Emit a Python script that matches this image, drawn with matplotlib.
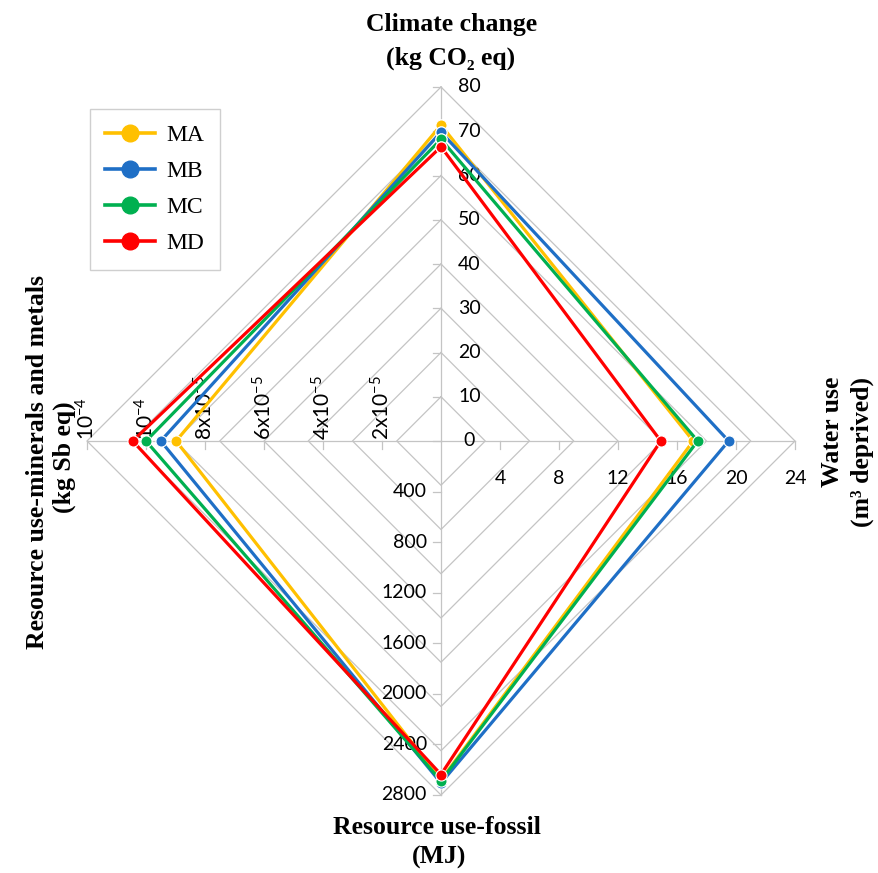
import matplotlib
matplotlib.use("Agg")
import matplotlib.pyplot as plt
from matplotlib.lines import Line2D
import numpy as np

# ---------------- data ----------------
series_names = ["MA", "MB", "MC", "MD"]
series_colors = ["#FFC000", "#1F6FC6", "#00B050", "#FF0000"]
climate_change = [71.4, 69.8, 68.2, 66.5]          # kg CO2 eq (top axis)
water_use = [17.1, 19.5, 17.4, 14.9]               # m3 deprived (right axis)
fossil = [2680, 2705, 2688, 2638]                  # MJ (bottom axis)
minerals = [0.898e-4, 0.950e-4, 1.000e-4, 1.045e-4]  # kg Sb eq (left axis)

top_ticks = [0, 10, 20, 30, 40, 50, 60, 70, 80]
right_ticks = [4, 8, 12, 16, 20, 24]
bottom_ticks = [400, 800, 1200, 1600, 2000, 2400, 2800]
left_ticks = [2e-5, 4e-5, 6e-5, 8e-5, 1e-4, 1.2e-4]
left_tick_labels = [r"$\mathregular{2x10^{-5}}$", r"$\mathregular{4x10^{-5}}$",
                    r"$\mathregular{6x10^{-5}}$", r"$\mathregular{8x10^{-5}}$",
                    r"$\mathregular{10^{-4}}$", r"$\mathregular{10^{-4}}$"]

axis_max = [80, 24, 2800, 1.2e-4]
directions = [(0, 1), (1, 0), (0, -1), (-1, 0)]
n_rings = 8

# ---------------- figure ----------------
W, H, DPI = 879, 873, 100
fig = plt.figure(figsize=(W / DPI, H / DPI), dpi=DPI)
ax = fig.add_axes([0, 0, 1, 1])
CX, CY, R = 441, 441, 354
ax.set_xlim(-CX / R, (W - CX) / R)
ax.set_ylim((CY - H) / R, CY / R)
ax.axis("off")
px = 1.0 / R

grid_c = "#C4C4C4"
tick_font = "Lato"
tick_size = 14
title_font = ["Liberation Serif", "DejaVu Serif"]


def pos(k, v):
    r = v / axis_max[k]
    return directions[k][0] * r, directions[k][1] * r


# grid diamonds
for i in range(1, n_rings + 1):
    r = i / n_rings
    xs = [0, r, 0, -r, 0]
    ys = [r, 0, -r, 0, r]
    ax.plot(xs, ys, color=grid_c, lw=0.9, zorder=1)
# axis lines
for dx, dy in directions:
    ax.plot([0, dx], [0, dy], color=grid_c, lw=0.9, zorder=1)

tl = 8 * px
# top ticks (to the left) + labels
for v in top_ticks:
    x, y = pos(0, v)
    ax.plot([x - tl, x], [y, y], color=grid_c, lw=0.9, zorder=1)
    off = 22 if v == 0 else 17
    ax.text(x + off * px, y, str(v), ha="left", va="center", fontsize=tick_size,
            family=tick_font, color="black")
# right ticks (below)
for v in right_ticks:
    x, y = pos(1, v)
    ax.plot([x, x], [y, y - tl], color=grid_c, lw=0.9, zorder=1)
    ax.text(x, y - 38 * px, str(v), ha="center", va="center", fontsize=tick_size,
            family=tick_font, color="black")
# bottom ticks (to the left)
for v in bottom_ticks:
    x, y = pos(2, v)
    ax.plot([x - tl, x], [y, y], color=grid_c, lw=0.9, zorder=1)
    ax.text(x - 14 * px, y, str(v), ha="right", va="center", fontsize=tick_size,
            family=tick_font, color="black")
# left ticks (below) + rotated labels
for v, lab in zip(left_ticks, left_tick_labels):
    x, y = pos(3, v)
    ax.plot([x, x], [y, y - tl], color=grid_c, lw=0.9, zorder=1)
    ax.text(x, y + 1 * px, lab, ha="center", va="bottom", rotation=90,
            fontsize=15, family=tick_font, color="black")

# series
for name, col, a, b, c, d in zip(series_names, series_colors, climate_change,
                                 water_use, fossil, minerals):
    pts = [pos(0, a), pos(1, b), pos(2, c), pos(3, d)]
    pts.append(pts[0])
    xs = [p[0] for p in pts]
    ys = [p[1] for p in pts]
    ax.plot(xs, ys, color=col, lw=2.3, marker="o", markersize=8,
            markeredgecolor="white", markeredgewidth=0.8, zorder=3,
            solid_joinstyle="miter")

# titles
tkw = dict(fontsize=18.5, fontweight="bold", family=title_font, color="black")
ax.text((452 - CX) * px, (CY - 24) * px, "Climate change", ha="center", va="center", **tkw)
ax.text((451 - CX) * px, (CY - 58) * px, "(kg CO\u2082 eq)", ha="center", va="center", **tkw)
ax.text((437 - CX) * px, (CY - 827) * px, "Resource use-fossil", ha="center", va="center", **tkw)
ax.text((439 - CX) * px, (CY - 857) * px, "(MJ)", ha="center", va="center", **tkw)
ax.text((38 - CX) * px, (CY - 462) * px, "Resource use-minerals and metals", ha="center",
        va="center", rotation=90, **tkw)
ax.text((64 - CX) * px, (CY - 457) * px, "(kg Sb eq)", ha="center", va="center",
        rotation=90, **tkw)
ax.text((833 - CX) * px, (CY - 432) * px, "Water use", ha="center", va="center",
        rotation=90, **tkw)
ax.text((862 - CX) * px, (CY - 452) * px, "(m\u00b3 deprived)", ha="center", va="center",
        rotation=90, **tkw)

# legend
handles = [Line2D([], [], color=c, lw=2.6, marker="o", markersize=12,
                  markeredgecolor=c) for c in series_colors]
leg = ax.legend(handles, series_names, loc="upper left",
                bbox_to_anchor=(90 / W, 1 - 109 / H), bbox_transform=fig.transFigure,
                borderaxespad=0, frameon=True, fancybox=False, edgecolor=grid_c,
                handlelength=2.1, handletextpad=0.5, labelspacing=0.62,
                borderpad=0.65, prop={"family": title_font, "size": 17})
leg.get_frame().set_linewidth(1.0)

fig.savefig("out.png", dpi=DPI)
